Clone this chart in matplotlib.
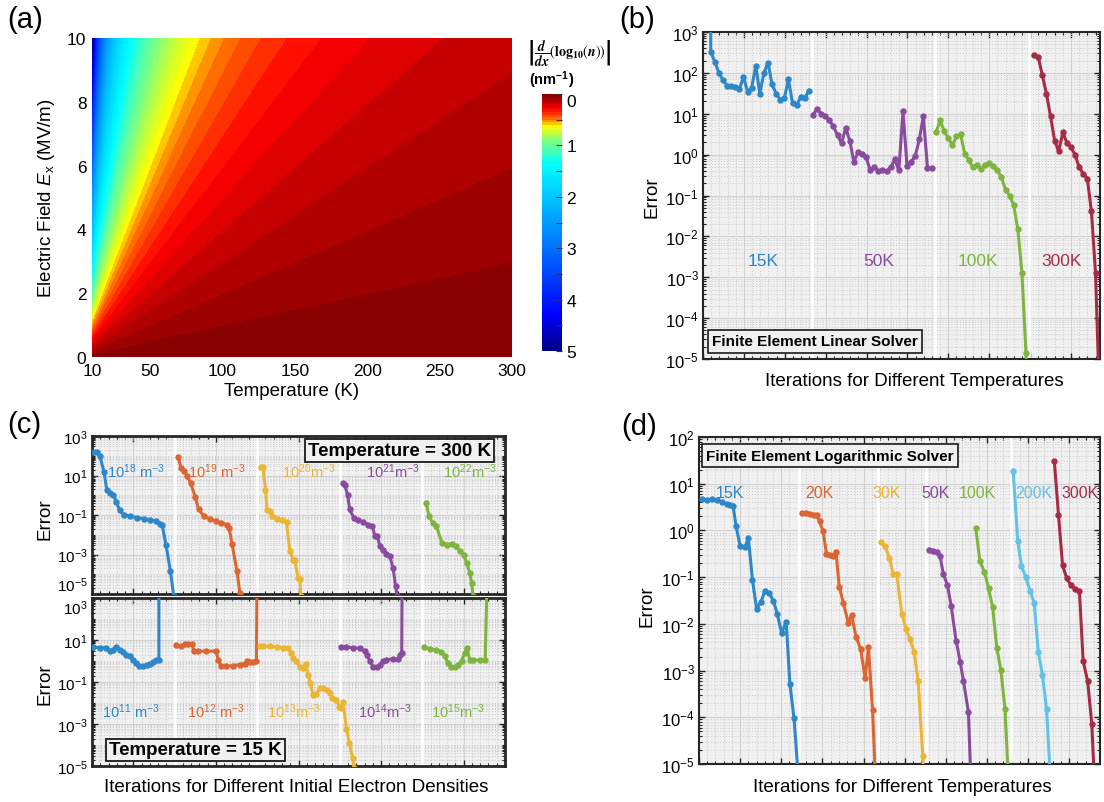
import numpy as np
import matplotlib
matplotlib.use('Agg')
import matplotlib.pyplot as plt
from matplotlib.colors import LinearSegmentedColormap
from matplotlib.ticker import (FixedLocator, NullFormatter, LogLocator,
                               FuncFormatter, MultipleLocator)

plt.rcParams['font.family'] = ['Liberation Sans', 'DejaVu Sans']
plt.rcParams['mathtext.fontset'] = 'custom'
plt.rcParams['mathtext.rm'] = 'Liberation Sans'
plt.rcParams['mathtext.it'] = 'Liberation Sans:italic'
plt.rcParams['mathtext.bf'] = 'Liberation Sans:bold'

# ---------------- data ----------------
# (a) gradient map: |d/dx log10(n)| (nm^-1) = grad_ref * (E/10 MV/m) * (10 K / T)
temperature_K = np.linspace(10, 300, 600)
field_MVm = np.linspace(0, 10, 400)
grad_ref = 5.04
contour_step = 0.05
cbar_ticks = [0, 1, 2, 3, 4, 5]
temp_ticks = [10, 50, 100, 150, 200, 250, 300]
field_ticks = [0, 2, 4, 6, 8, 10]
cmap_values = [0, 0.3, 0.5, 0.62, 0.9, 1.35, 4.3, 5.0]
cmap_colors = [(0.5, 0, 0), (1, 0, 0), (1, 0.5, 0), (1, 1, 0), (0.5, 1, 0.5),
               (0, 1, 1), (0, 0, 1), (0, 0, 0.5)]

# (b) finite element linear solver
b_labels = ['15K', '50K', '100K', '300K']
b_x = [
    [1.85] + list(1.9 + np.arange(25)),
    list(26.9 + np.arange(30)),
    list(57.0 + np.arange(23)) + [79.3],
    list(81.0 + np.arange(16)) + [96.8],
]
b_y = [
    [5000, 325, 185, 100, 66, 48, 48, 45, 40, 80, 35, 43, 150, 31, 100, 178, 52, 31,
     22, 24, 69, 18, 16.6, 25.5, 24.5, 37],
    [9.5, 13, 10, 8.7, 6.9, 4.9, 2.96, 1.9, 4.5, 2.2, 0.66, 1.15, 1.05, 0.87, 0.41,
     0.51, 0.39, 0.43, 0.39, 0.49, 0.76, 0.41, 11.5, 0.54, 0.67, 0.91, 2.35, 8.6,
     0.47, 0.47],
    [3.5, 6.9, 3.7, 2.5, 1.7, 2.8, 3.2, 1.05, 0.74, 0.49, 0.57, 0.45, 0.57, 0.62,
     0.54, 0.41, 0.28, 0.138, 0.1, 0.057, 0.015, 0.0013, 1.4e-5, 3e-6],
    [268, 245, 87, 31, 8.7, 2.2, 1.2, 3.5, 1.95, 1.5, 1.0, 0.49, 0.34, 0.26, 0.041,
     0.0013, 4e-6],
]
b_label_x = [14.7, 42.9, 67.3, 87.8]
b_label_y = 2.6e-3
b_separators = [26.6, 56.8, 79.8]

# (c) top: 300 K, initial densities 1e18..1e22 m^-3
c_top_labels = [r'$10^{18}\ \mathrm{m}^{-3}$', r'$10^{19}\ \mathrm{m}^{-3}$',
                r'$10^{20}\mathrm{m}^{-3}$', r'$10^{21}\mathrm{m}^{-3}$',
                r'$10^{22}\mathrm{m}^{-3}$']
c_top_x = [
    [0.5, 1.3, 1.9, 2.9, 3.6, 4.4, 5.2, 5.9, 6.7, 7.7, 9.3, 10.9, 12.5, 14.1, 15.6,
     16.5, 17.0, 17.9, 19.0, 19.8],
    [20.8, 21.6, 22.3, 23.0, 23.9, 25.0, 25.8, 27.1, 28.5, 30.1, 31.3, 32.6, 33.2,
     33.9, 35.1, 35.8, 36.0],
    [40.9, 41.4, 42.0, 42.4, 43.1, 43.5, 44.7, 45.9, 47.1, 47.9, 48.7, 49.1, 49.9,
     50.3, 50.6],
    [60.8, 61.2, 61.9, 62.4, 63.4, 64.5, 65.7, 66.9, 67.9, 68.5, 69.1, 69.7, 70.5,
     71.3, 72.1, 72.9, 73.5, 73.9],
    [80.9, 81.6, 82.5, 83.4, 84.7, 85.9, 87.1, 88.1, 89.1, 90.1, 90.7, 91.5, 91.9,
     92.3],
]
c_top_y = [
    [160, 155, 98, 15.5, 1.74, 1.32, 0.98, 0.47, 0.17, 0.102, 0.087, 0.074, 0.066,
     0.056, 0.048, 0.037, 0.030, 3.2e-3, 1.4e-4, 7.6e-6],
    [85, 24.5, 16.6, 10, 4.0, 0.83, 0.19, 0.087, 0.066, 0.049, 0.040, 0.033, 0.022,
     3.4e-3, 1.5e-4, 1.1e-5, 5e-6],
    [27, 27, 1.95, 0.17, 0.155, 0.087, 0.066, 0.055, 0.043, 1.45e-3, 5.5e-4, 5.1e-4,
     6.5e-5, 5.8e-5, 7.6e-6],
    [4.3, 3.5, 0.98, 0.19, 0.071, 0.055, 0.043, 0.033, 0.027, 8.3e-3, 8.3e-3, 2.6e-3,
     1.6e-3, 1.1e-3, 8.1e-4, 2.1e-4, 2.5e-5, 7.6e-6],
    [0.42, 0.087, 0.040, 0.027, 3.9e-3, 3.2e-3, 3.5e-3, 2.6e-3, 1.45e-3, 9.8e-4,
     3.7e-4, 1.15e-4, 3.6e-5, 7.6e-6],
]
c_top_label_x = [10.7, 30.3, 52.6, 72.9, 91.4]
c_top_label_y = 16.6

# (c) bottom: 15 K, initial densities 1e11..1e15 m^-3
c_bot_labels = [r'$10^{11}\ \mathrm{m}^{-3}$', r'$10^{12}\ \mathrm{m}^{-3}$',
                r'$10^{13}\mathrm{m}^{-3}$', r'$10^{14}\mathrm{m}^{-3}$',
                r'$10^{15}\mathrm{m}^{-3}$']
c_bot_x = [
    [0.24, 1.86, 3.47, 4.28, 5.09, 5.9, 6.7, 7.5, 8.3, 9.1, 9.9, 10.7, 11.5, 12.4,
     13.2, 14.0, 14.8, 15.6, 16.2, 16.2],
    [20.4, 21.6, 22.4, 23.2, 24.3, 24.6, 25.7, 27.7, 30.1, 30.5, 31.3, 32.5, 34.2,
     35.8, 37.0, 37.6, 38.2, 39.0, 39.8, 40.0],
    [40.6, 41.4, 43.0, 44.7, 46.3, 47.5, 48.3, 48.7, 49.5, 50.3, 51.1, 51.8, 52.3,
     52.9, 53.5, 54.2, 55.2, 56.0, 56.8, 57.6, 58.2, 59.2, 59.9, 60.4, 60.8, 61.6,
     62.3, 63.1, 63.4],
    [60.4, 61.6, 63.2, 64.9, 66.1, 66.5, 67.3, 68.1, 68.9, 69.7, 70.5, 71.3, 72.9,
     74.2, 74.6, 75.0, 75.1],
    [80.4, 81.8, 83.4, 84.6, 85.4, 86.2, 87.0, 87.9, 88.7, 89.5, 90.3, 90.7, 91.5,
     92.3, 93.9, 95.2, 95.8],
]
c_bot_y = [
    [4.6, 4.3, 4.3, 3.0, 3.5, 4.8, 3.5, 2.75, 2.0, 1.7, 1.17, 0.81, 0.60, 0.56, 0.68,
     0.76, 0.87, 1.1, 1.17, 1e5],
    [5.6, 5.1, 6.2, 6.2, 6.2, 2.95, 2.95, 2.95, 2.95, 1.17, 0.56, 0.56, 0.60, 0.68,
     0.76, 0.98, 0.91, 0.91, 0.98, 1e5],
    [5.1, 5.1, 5.1, 4.8, 4.3, 4.0, 2.45, 1.41, 0.98, 0.50, 0.47, 0.76, 0.22, 0.087,
     0.024, 0.026, 0.050, 0.050, 0.042, 0.029, 0.0166, 0.0138, 6.5e-3, 5.8e-3,
     0.0115, 5.9e-4, 1.3e-4, 2.5e-5, 8.3e-6],
    [4.6, 4.6, 4.3, 4.0, 2.95, 2.0, 0.98, 0.50, 0.50, 0.68, 0.98, 1.17, 1.26, 1.26,
     2.0, 2.45, 1e5],
    [4.6, 3.8, 3.3, 2.75, 1.7, 0.81, 0.50, 0.50, 0.68, 1.05, 2.45, 4.3, 1.17, 1.1,
     1.1, 1.1, 1e5],
]
c_bot_label_x = [9.3, 30.1, 48.8, 70.9, 88.7]
c_bot_label_y = 4.5e-3
c_separators = [20, 40, 60, 80]

# (d) finite element logarithmic solver
d_labels = ['15K', '20K', '30K', '50K', '100K', '200K', '300K']
d_x = [
    [0.65, 2.0, 3.1, 4.3, 5.5, 6.7, 7.5, 8.3, 9.0, 10.0, 11.2, 12.0, 13.0, 14.0,
     15.1, 16.0, 17.1, 18.1, 19.0, 20.1, 21.2, 22.1, 23.1, 24.0],
    [25.0, 25.9, 27.0, 28.0, 28.6, 29.3, 30.2, 31.0, 31.8, 32.7, 33.3, 34.1, 35.1,
     36.3, 37.1, 38.2, 39.3, 40.4, 41.2, 42.2, 42.8],
    [44.2, 45.2, 46.3, 47.2, 48.1, 49.3, 50.3, 51.3, 52.3, 53.3, 54.4, 54.6],
    [56.0, 57.0, 57.8, 58.6, 59.4, 60.4, 61.3, 62.5, 63.5, 64.3, 65.5, 66.0],
    [67.3, 68.3, 69.4, 70.4, 71.4, 72.4, 73.4, 74.4, 75.1],
    [76.4, 77.5, 78.4, 79.4, 80.5, 81.5, 82.5, 83.5, 84.5, 85.3],
    [86.4, 87.4, 88.4, 89.4, 90.4, 91.4, 92.5, 93.4, 94.5, 95.5, 96.0],
]
d_y = [
    [4.7, 4.4, 4.6, 4.4, 4.1, 3.7, 3.5, 3.3, 1.26, 0.46, 0.44, 0.69, 0.087, 0.021,
     0.030, 0.050, 0.045, 0.031, 0.0166, 6.3e-3, 0.0112, 5.2e-4, 9.5e-5, 8e-6],
    [2.37, 2.37, 2.24, 2.19, 2.09, 1.57, 0.95, 0.31, 0.30, 0.29, 0.35, 0.063, 0.028,
     0.0105, 0.0155, 5.2e-3, 2.9e-3, 6.8e-4, 3.2e-3, 1.4e-4, 8e-6],
    [0.56, 0.46, 0.26, 0.117, 0.115, 0.0166, 7.9e-3, 4.7e-3, 2.5e-3, 5.9e-4, 1.5e-5,
     5e-6],
    [0.39, 0.355, 0.347, 0.29, 0.117, 0.068, 0.0245, 4.4e-3, 1.55e-3, 6.0e-4, 1.3e-4,
     8e-6],
    [1.12, 0.22, 0.129, 0.058, 0.0224, 3.1e-3, 1.02e-3, 1.5e-4, 8e-6],
    [18.6, 0.60, 0.174, 0.102, 0.051, 0.028, 2.5e-3, 8.1e-4, 1.5e-4, 8e-6],
    [30, 2.19, 0.178, 0.095, 0.068, 0.056, 0.050, 1.6e-3, 5.9e-4, 7.2e-5, 8e-6],
]
d_label_x = [7.5, 29.3, 45.6, 57.6, 67.7, 81.5, 92.6]
d_label_y = 6.6
d_separators = [24.4, 43.6, 55.3, 75.9]

# ---------------- styles ----------------
BLUE, ORANGE, YELLOW = '#2d87c8', '#dc6531', '#ecb634'
PURPLE, GREEN, CYAN, RED = '#8a4b9f', '#7fb53f', '#60c3ea', '#a82b45'
BG = '#f0f0f0'
W, H = 1104, 803
fig = plt.figure(figsize=(W / 100, H / 100), dpi=100)


def rect(x0, y0, x1, y1):
    return [x0 / W, 1 - y1 / H, (x1 - x0) / W, (y1 - y0) / H]


def ftext(x, y, s, **kw):
    return fig.text(x / W, 1 - y / H, s, **kw)


def dec_fmt(v, pos):
    return r'$\mathregular{10^{%d}}$' % int(round(np.log10(v)))


def log_panel(box, xmax, ylo, yhi, label_exps, spine_lw, tick_fs):
    ax = fig.add_axes(rect(*box))
    ax.set_facecolor(BG)
    ax.set_yscale('log')
    ax.set_xlim(0, xmax)
    ax.set_ylim(10.0 ** ylo, 10.0 ** yhi)
    ax.set_axisbelow(True)
    ax.xaxis.set_major_locator(MultipleLocator(10))
    ax.xaxis.set_minor_locator(MultipleLocator(2))
    ax.yaxis.set_major_locator(FixedLocator([10.0 ** e for e in label_exps]))
    ax.yaxis.set_minor_locator(LogLocator(base=10, subs=np.arange(1, 10), numticks=100))
    ax.yaxis.set_major_formatter(FuncFormatter(dec_fmt))
    ax.yaxis.set_minor_formatter(NullFormatter())
    ax.grid(True, which='major', color='#d2d2d2', lw=0.8)
    ax.grid(True, which='minor', color='#cacaca', lw=0.7, ls=(0, (1, 2)))
    ax.tick_params(which='both', direction='in', top=True, right=True,
                   labelbottom=False, color='0.15')
    ax.tick_params(which='major', length=4, width=1, labelsize=tick_fs, pad=3)
    ax.tick_params(which='minor', length=2, width=0.8)
    for s in ax.spines.values():
        s.set_linewidth(spine_lw)
        s.set_color('0.15')
    return ax


def series(ax, x, y, color):
    ax.plot(x, y, '-', color=color, lw=2.2, marker='o', ms=3.6, mfc=color,
            mec=color, zorder=3)


def separators(ax, xs):
    for xv in xs:
        ax.axvline(xv, color='white', lw=2, zorder=0.8)


# ---------------- (a) ----------------
axa = fig.add_axes(rect(92, 39, 512, 358))
T, E = np.meshgrid(temperature_K, field_MVm)
G = np.minimum(grad_ref * (E / 10.0) * (10.0 / T), 4.999)
levels = np.arange(0, 5.0 + 1e-9, contour_step)
cmap = LinearSegmentedColormap.from_list(
    'grad', list(zip(np.array(cmap_values) / 5.0, cmap_colors)), N=512)
cf = axa.contourf(T, E, G, levels=levels, cmap=cmap, vmin=0, vmax=5)
axa.set_xlim(10, 300)
axa.set_ylim(0, 10)
axa.set_xticks(temp_ticks)
axa.set_yticks(field_ticks)
axa.tick_params(labelsize=12.5, length=0, pad=4)
for s in axa.spines.values():
    s.set_visible(False)

cax = fig.add_axes(rect(542, 95, 562, 352))
cb = fig.colorbar(cf, cax=cax, ticks=cbar_ticks)
cax.invert_yaxis()
cb.outline.set_visible(False)
cax.yaxis.set_minor_locator(MultipleLocator(0.5))
cax.tick_params(which='both', direction='in', length=4, width=0.8, color='0.2',
                labelsize=12.5, pad=3)
for lbl in cax.get_yticklabels():
    if lbl.get_text() == '0':
        lbl.set_va('top')

ftext(292, 392, 'Temperature (K)', fontsize=13.5, ha='center', va='center')
ftext(47, 198, r'Electric Field $\mathit{E}_{\mathrm{x}}$ (MV/m)', fontsize=13.5,
      rotation=90, ha='center', va='center')
cb_label = ftext(569, 54, r'$\left|\dfrac{\mathbfit{d}}{\mathbfit{dx}}(\mathbf{log_{10}}(\mathbfit{n}))\right|$',
                 fontsize=10, ha='center', va='center', math_fontfamily='stix')
ftext(552, 80, r'(nm$^{\mathbf{-1}}$)', fontsize=10.5, fontweight='bold',
      ha='center', va='center')

# ---------------- (b) ----------------
axb = log_panel((703, 33, 1100, 360), 97.1, -5, 3, range(-5, 4), 1.5, 12)
separators(axb, b_separators)
for xs, ys, c in zip(b_x, b_y, [BLUE, PURPLE, GREEN, RED]):
    series(axb, xs, ys, c)
for lab, xl, c in zip(b_labels, b_label_x, [BLUE, PURPLE, GREEN, RED]):
    axb.text(xl, b_label_y, lab, color=c, fontsize=12.5, ha='center', va='center')
ftext(815, 342.5, 'Finite Element Linear Solver', fontsize=11, fontweight='bold',
      ha='center', va='center',
      bbox=dict(boxstyle='square,pad=0.3', fc=BG, ec='0.1', lw=1.2))
ftext(914, 382, 'Iterations for Different Temperatures', fontsize=13.5,
      ha='center', va='center')
ftext(652, 197, 'Error', fontsize=13.5, rotation=90, ha='center', va='center')

# ---------------- (c) ----------------
c_exps = [3, 1, -1, -3, -5]
axc1 = log_panel((92, 437, 505, 595), 100, -5, 3, c_exps, 2, 11)
axc2 = log_panel((92, 599, 505, 767), 100, -5, 3, c_exps, 2, 11)
c_colors = [BLUE, ORANGE, YELLOW, PURPLE, GREEN]
for ax, xs_all, ys_all, labs, lx, ly in (
        (axc1, c_top_x, c_top_y, c_top_labels, c_top_label_x, c_top_label_y),
        (axc2, c_bot_x, c_bot_y, c_bot_labels, c_bot_label_x, c_bot_label_y)):
    separators(ax, c_separators)
    for xs, ys, c in zip(xs_all, ys_all, c_colors):
        series(ax, xs, ys, c)
    for lab, xl, c in zip(labs, lx, c_colors):
        ax.text(xl, ly, lab, color=c, fontsize=10.5, ha='center', va='center')
# keep the shared-edge tick labels from colliding
fig.canvas.draw()
axc1.get_yticklabels()[-1].set_va('bottom')
axc2.get_yticklabels()[0].set_va('top')
ftext(399.5, 451.5, 'Temperature = 300 K', fontsize=13.5, fontweight='bold',
      ha='center', va='center',
      bbox=dict(boxstyle='square,pad=0.15', fc=BG, ec='0.1', lw=1.3))
ftext(195.5, 751, 'Temperature = 15 K', fontsize=13.5, fontweight='bold',
      ha='center', va='center',
      bbox=dict(boxstyle='square,pad=0.15', fc=BG, ec='0.1', lw=1.3))
ftext(45, 519, 'Error', fontsize=13.5, rotation=90, ha='center', va='center')
ftext(45, 684, 'Error', fontsize=13.5, rotation=90, ha='center', va='center')
ftext(296, 788, 'Iterations for Different Initial Electron Densities', fontsize=13.5,
      ha='center', va='center')

# ---------------- (d) ----------------
axd = log_panel((699, 438, 1100, 765), 97.5, -5, 2, range(-5, 3), 1.5, 12)
separators(axd, d_separators)
d_colors = [BLUE, ORANGE, YELLOW, PURPLE, GREEN, CYAN, RED]
for xs, ys, c in zip(d_x, d_y, d_colors):
    series(axd, xs, ys, c)
for lab, xl, c in zip(d_labels, d_label_x, d_colors):
    axd.text(xl, d_label_y, lab, color=c, fontsize=11.5, ha='center', va='center')
ftext(830, 456.5, 'Finite Element Logarithmic Solver', fontsize=11, fontweight='bold',
      ha='center', va='center',
      bbox=dict(boxstyle='square,pad=0.3', fc=BG, ec='0.1', lw=1.2))
ftext(902, 788, 'Iterations for Different Temperatures', fontsize=13.5,
      ha='center', va='center')
ftext(647, 606, 'Error', fontsize=13.5, rotation=90, ha='center', va='center')

# panel letters
for lab, x, y in (('(a)', 7, 20), ('(b)', 619, 20), ('(c)', 7, 425), ('(d)', 621, 427)):
    ftext(x, y, lab, fontsize=21, ha='left', va='center')

try:
    fig.canvas.draw()
except Exception:
    cb_label.set_text(cb_label.get_text().replace(r'\mathbfit', r'\mathbf')
                      .replace(r'\dfrac', r'\frac'))

fig.savefig('out.png', dpi=100)
